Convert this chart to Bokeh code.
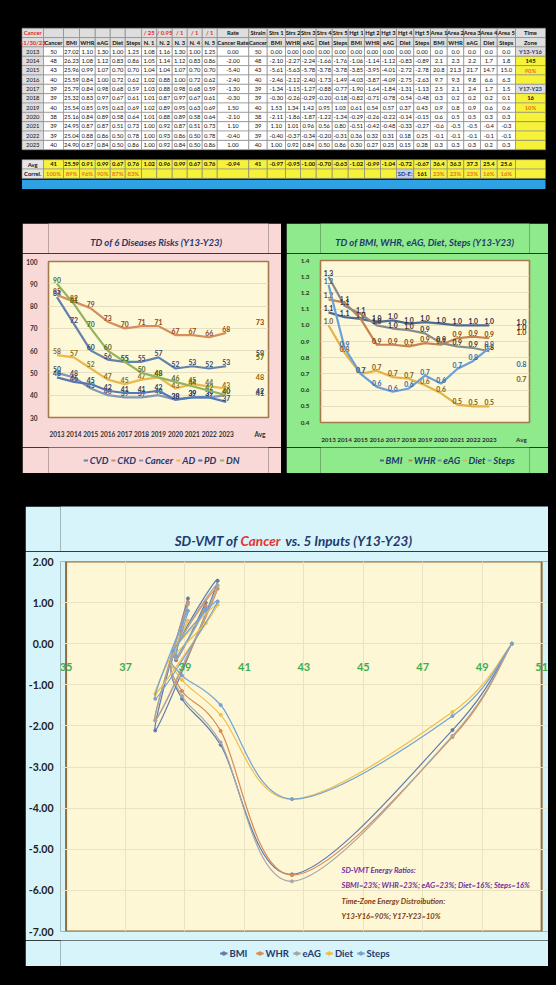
import numpy as np
from bokeh.plotting import figure
from bokeh.models import (ColumnDataSource, Range1d, FactorRange, FixedTicker, Label,
                          NumeralTickFormatter, Spacer)
from bokeh.layouts import column, row
from bokeh.core.properties import value
from bokeh.embed import file_html
from bokeh.resources import INLINE

FONT = "Lato"
NAVY = "#1f3a6e"

# ---------------- data ----------------
years = ["2013", "2014", "2015", "2016", "2017", "2018", "2019", "2020", "2021", "2022", "2023"]
cancer = [50, 48, 43, 40, 39, 39, 40, 38, 39, 39, 40]
cancer_exact = [50.0, 48.0, 42.6, 40.2, 38.9, 38.6, 40.1, 38.0, 39.1, 38.7, 39.7]
bmi = [27.02, 26.23, 25.96, 25.59, 25.79, 25.32, 25.54, 25.16, 24.95, 25.04, 24.90]
whr = [1.10, 1.08, 0.99, 0.84, 0.84, 0.83, 0.85, 0.84, 0.87, 0.88, 0.87]
eag = [1.30, 1.12, 1.07, 1.00, 0.98, 0.97, 0.95, 0.89, 0.87, 0.86, 0.84]
diet = [1.00, 0.83, 0.70, 0.72, 0.68, 0.67, 0.63, 0.58, 0.51, 0.50, 0.50]
steps = [1.25, 0.86, 0.70, 0.62, 0.59, 0.61, 0.69, 0.64, 0.73, 0.78, 0.86]
n1 = [1.08, 1.05, 1.04, 1.02, 1.03, 1.01, 1.02, 1.01, 1.00, 1.00, 1.00]
n2 = [1.16, 1.14, 1.04, 0.88, 0.88, 0.87, 0.89, 0.88, 0.92, 0.93, 0.92]
n3 = [1.30, 1.12, 1.07, 1.00, 0.98, 0.97, 0.95, 0.89, 0.87, 0.86, 0.84]
n4 = [1.00, 0.83, 0.70, 0.72, 0.68, 0.67, 0.63, 0.58, 0.51, 0.50, 0.50]
n5 = [1.25, 0.86, 0.70, 0.62, 0.59, 0.61, 0.69, 0.64, 0.73, 0.78, 0.86]
rate = [0.00, -2.00, -5.40, -2.40, -1.30, -0.30, 1.50, -2.10, 1.10, -0.40, 1.00]
strs_bmi = [0.00, -2.10, -5.61, -2.46, -1.34, -0.30, 1.53, -2.11, 1.10, -0.40, 1.00]
strs_whr = [0.00, -2.27, -5.63, -2.12, -1.15, -0.26, 1.34, -1.86, 1.01, -0.37, 0.92]
strs_eag = [0.00, -2.24, -5.78, -2.40, -1.27, -0.29, 1.42, -1.87, 0.96, -0.34, 0.84]
strs_diet = [0.00, -1.66, -3.78, -1.73, -0.88, -0.20, 0.95, -1.22, 0.56, -0.20, 0.50]
strs_steps = [0.00, -1.76, -3.78, -1.49, -0.77, -0.18, 1.03, -1.34, 0.80, -0.31, 0.86]
hgt1 = [0.00, -1.06, -3.85, -4.03, -1.90, -0.82, 0.61, -0.29, -0.51, 0.36, 0.30]
hgt2 = [0.00, -1.14, -3.95, -3.87, -1.64, -0.71, 0.54, -0.26, -0.42, 0.32, 0.27]
hgt3 = [0.00, -1.12, -4.01, -4.09, -1.84, -0.78, 0.57, -0.22, -0.48, 0.31, 0.25]
hgt4 = [0.00, -0.83, -2.72, -2.75, -1.31, -0.54, 0.37, -0.14, -0.33, 0.18, 0.15]
hgt5 = [0.00, -0.89, -2.78, -2.63, -1.13, -0.48, 0.43, -0.15, -0.27, 0.25, 0.28]
area1 = [0.0, 2.1, 20.8, 9.7, 2.5, 0.3, 0.9, 0.6, -0.6, -0.1, 0.3]
area2 = [0.0, 2.3, 21.3, 9.3, 2.1, 0.2, 0.8, 0.5, -0.5, -0.1, 0.3]
area3 = [0.0, 2.2, 21.7, 9.8, 2.4, 0.2, 0.9, 0.5, -0.5, -0.1, 0.3]
area4 = [0.0, 1.7, 14.7, 6.6, 1.7, 0.2, 0.6, 0.3, -0.4, -0.1, 0.2]
area5 = [0.0, 1.8, 15.0, 6.3, 1.5, 0.1, 0.6, 0.3, -0.3, -0.1, 0.3]
time_zone = ["Y13-Y16", "145", "90%", "", "Y17-Y23", "16", "10%", "", "", "", ""]
avg_row = ["Avg", "41", "25.59", "0.91", "0.99", "0.67", "0.76", "1.02", "0.96", "0.99", "0.67", "0.76",
           "-0.94", "41", "-0.97", "-0.95", "-1.00", "-0.70", "-0.63", "-1.02", "-0.99", "-1.04", "-0.72",
           "-0.67", "36.4", "36.3", "37.3", "25.4", "25.6", ""]
correl = ["100%", "89%", "96%", "90%", "87%", "83%"]
sde_value = "161"
area_share = ["23%", "23%", "23%", "16%", "16%"]
header1 = ["Cancer", "", "", "", "", "", "", "/ 25", "/ 0.95", "/ 1", "/ 1", "/ 1", "Rate", "Strain",
           "Strs 1", "Strs 2", "Strs 3", "Strs 4", "Strs 5", "Hgt 1", "Hgt 2", "Hgt 3", "Hgt 4", "Hgt 5",
           "Area 1", "Area 2", "Area 3", "Area 4", "Area 5", "Time"]
header2 = ["11/30/23", "Cancer", "BMI", "WHR", "eAG", "Diet", "Steps", "N. 1", "N. 2", "N. 3", "N. 4",
           "N. 5", "Cancer Rate", "Cancer", "BMI", "WHR", "eAG", "Diet", "Steps", "BMI", "WHR", "eAG",
           "Diet", "Steps", "BMI", "WHR", "eAG", "Diet", "Steps", "Zone"]

# disease risks (left chart)
cvd = [84, 72, 60, 56, 55, 55, 57, 52, 53, 52, 53]
ckd = [85, 82, 79, 73, 70, 71, 71, 67, 67, 66, 68]
cancer_risk = [50, 48, 43, 40, 39, 39, 40, 38, 39, 39, 40]
ad = [58, 57, 52, 47, 45, 47, 48, 43, 45, 44, 43]
pd_ = [48, 46, 45, 42, 41, 41, 42, 38, 39, 39, 37]
dn = [90, 81, 70, 60, 55, 50, 48, 46, 44, 42, 40]
disease_avg = [59, 73, 41, 48, 42, 57]
disease_names = ["CVD", "CKD", "Cancer", "AD", "PD", "DN"]

# inputs (right chart) averages
input_names = ["BMI", "WHR", "eAG", "Diet", "Steps"]
input_avg = [1.02, 0.96, 0.99, 0.67, 0.76]

x_ticks_big = [35, 37, 39, 41, 43, 45, 47, 49, 51]
y_ticks_big = [-7, -6, -5, -4, -3, -2, -1, 0, 1, 2]
X_MIN, X_MAX, Y_MIN, Y_MAX = 35, 51, -7, 2

# ---------------- table ----------------
col_w = [21.5, 20, 16, 15.7, 15, 15, 16.3, 15.3, 15.4, 15, 15, 15, 31.6, 18.4, 18.3, 15, 15.7,
         16, 16, 16.3, 16, 16, 17.3, 16.7, 16.7, 16.6, 16.7, 16.7, 18.3, 30]
edges = [21.5]
for w in col_w:
    edges.append(edges[-1] + w)
RH = 9.35
GREY, WHITE, YEL, RED, ORANGE = "#dedede", "#ffffff", "#f6f23a", "#e2291f", "#e8731c"

cells = dict(l=[], r=[], t=[], b=[], fc=[])
texts = dict(x=[], y=[], t=[], tc=[], fs=[])


def add_row(top, values, fills, colors, styles):
    for c in range(len(col_w)):
        cells["l"].append(edges[c]); cells["r"].append(edges[c + 1])
        cells["t"].append(top); cells["b"].append(top + RH); cells["fc"].append(fills[c])
        if values[c]:
            texts["x"].append((edges[c] + edges[c + 1]) / 2); texts["y"].append(top + RH / 2)
            texts["t"].append(values[c]); texts["tc"].append(colors[c]); texts["fs"].append(styles[c])


ncol = len(col_w)
hcol = ["#111111"] * ncol
hcol[0] = RED
for c in range(7, 12):
    hcol[c] = RED
add_row(27.7, header1, [GREY] * ncol, hcol, ["bold"] * ncol)
h2col = ["#111111"] * ncol
h2col[0] = RED
add_row(27.7 + RH, header2, [GREY] * ncol, h2col, ["bold"] * ncol)

for i, yr in enumerate(years):
    vals = [yr, str(cancer[i]), f"{bmi[i]:.2f}", f"{whr[i]:.2f}", f"{eag[i]:.2f}", f"{diet[i]:.2f}",
            f"{steps[i]:.2f}", f"{n1[i]:.2f}", f"{n2[i]:.2f}", f"{n3[i]:.2f}", f"{n4[i]:.2f}",
            f"{n5[i]:.2f}", f"{rate[i]:.2f}", str(cancer[i]),
            f"{strs_bmi[i]:.2f}", f"{strs_whr[i]:.2f}", f"{strs_eag[i]:.2f}", f"{strs_diet[i]:.2f}",
            f"{strs_steps[i]:.2f}", f"{hgt1[i]:.2f}", f"{hgt2[i]:.2f}", f"{hgt3[i]:.2f}",
            f"{hgt4[i]:.2f}", f"{hgt5[i]:.2f}", f"{area1[i]:.1f}", f"{area2[i]:.1f}",
            f"{area3[i]:.1f}", f"{area4[i]:.1f}", f"{area5[i]:.1f}", time_zone[i]]
    fills = [GREY] + [WHITE] * (ncol - 1)
    cols = ["#111111"] * ncol
    sty = ["normal"] * ncol
    tz = time_zone[i]
    if tz.startswith("Y"):
        fills[-1] = GREY; cols[-1] = NAVY; sty[-1] = "bold"
    else:
        fills[-1] = YEL; sty[-1] = "bold"
        if tz.endswith("%"):
            cols[-1] = ORANGE
    add_row(46.4 + i * RH, vals, fills, cols, sty)

avg_top = 159.2
add_row(avg_top, avg_row, ["#e6e6e6"] + [YEL] * (ncol - 1), ["#111111"] * ncol, ["bold"] * ncol)
cor_vals = ["Correl."] + correl + [""] * 15 + ["SD-E:", sde_value] + area_share + [""]
cor_fill = ["#e6e6e6"] + [YEL] * (ncol - 1)
cor_fill[22] = "#bfd0ee"
cor_col = ["#111111"] + [ORANGE] * 6 + ["#111111"] * 15 + [NAVY, "#111111"] + [ORANGE] * 5 + ["#111111"]
add_row(avg_top + RH, cor_vals, cor_fill, cor_col, ["bold"] * ncol)


def blank_fig(w, h, color):
    f = figure(width=w, height=h, x_range=Range1d(0, w), y_range=Range1d(h, 0),
               x_axis_location=None, y_axis_location=None, output_backend="svg",
               toolbar_location=None, min_border=0)
    f.background_fill_color = color
    f.border_fill_color = color
    f.outline_line_color = None
    f.grid.visible = False
    return f


tbl = blank_fig(556, 200, "black")
tbl.quad(left="l", right="r", top="t", bottom="b", fill_color="fc", line_color="#8a8a8a",
         line_width=0.6, source=ColumnDataSource(cells))
tbl.quad(left=[edges[0]], right=[edges[-1]], top=[179.2], bottom=[188.4], fill_color="#2ea2e2",
         line_color=None)
tbl.text(x="x", y="y", text="t", text_color="tc", text_font_style="fs", text_font_size="5.8px",
         text_font=value(FONT), text_align="center", text_baseline="middle",
         source=ColumnDataSource(texts))


def title_fig(w, h, color, parts, xs, aligns, colors, yc, size):
    f = blank_fig(w, h, color)
    for t, xx, a, c in zip(parts, xs, aligns, colors):
        f.text(x=[xx], y=[yc], text=[t], text_color=c, text_align=a, text_baseline="middle",
               text_font=value(FONT), text_font_size=size, text_font_style="bold italic")
    return f


def est_width(s, px):
    em = 0.0
    for ch in s:
        if ch == "W":
            em += 1.05
        elif ch == "M":
            em += 0.95
        elif ch.isupper():
            em += 0.72
        elif ch in "iltf":
            em += 0.32
        elif ch.islower():
            em += 0.53
        elif ch.isdigit():
            em += 0.58
        else:
            em += 0.28
    return em * px


def legend_fig(w, h, color, names, colors, center_x, style, px, gw, gap, markers=False):
    f = blank_fig(w, h, color)
    widths = [gw + 2 + est_width(n, px) for n in names]
    total = sum(widths) + gap * (len(names) - 1)
    x = center_x - total / 2
    yc = h / 2
    for n, c, wd in zip(names, colors, widths):
        f.segment(x0=[x], y0=[yc], x1=[x + gw], y1=[yc], line_color=c, line_width=2)
        if markers:
            f.scatter(x=[x + gw / 2], y=[yc], size=3.5, color=c)
        f.text(x=[x + gw + 2], y=[yc], text=[n], text_color=NAVY, text_align="left",
               text_baseline="middle", text_font=value(FONT), text_font_size=f"{px}px",
               text_font_style=style)
        x += wd + gap
    return f


# ---------------- small charts ----------------
def style_small(p, lbl_size):
    p.background_fill_color = "#fdf8d8"
    p.outline_line_color = "#a47a4c"
    p.outline_line_width = 1.6
    p.xgrid.grid_line_color = None
    p.ygrid.grid_line_color = "#e6dfc2"
    for ax in (p.xaxis[0], p.yaxis[0]):
        ax.axis_line_color = None
        ax.major_tick_line_color = None
        ax.minor_tick_line_color = None
        ax.major_label_text_font = FONT
        ax.major_label_text_font_style = "bold"
        ax.major_label_text_font_size = lbl_size
        ax.major_label_text_color = "#303030"
    p.xaxis.major_label_standoff = 7
    p.yaxis.major_label_standoff = 5


cats = years + [" ", "Avg"]
PINK, GREEN, CYAN = "#f9d9d8", "#8fea8c", "#d6f4fa"

t1 = title_fig(259, 30, PINK, ["TD of 6 Diseases Risks  (Y13-Y23)"], [128], ["center"], [NAVY],
               19, "9.5px")
p1 = figure(width=259, height=194, x_range=FactorRange(factors=cats), y_range=Range1d(30, 100),
            output_backend="svg", toolbar_location=None,
            min_border_left=26, min_border_right=13, min_border_top=8, min_border_bottom=30)
p1.border_fill_color = PINK
style_small(p1, "6.5px")
p1.yaxis.ticker = FixedTicker(ticks=[30, 40, 50, 60, 70, 80, 90, 100])

disease_vals = [cvd, ckd, cancer_risk, ad, pd_, dn]
disease_line = ["#6282ad", "#d48e5e", "#8597b5", "#eab94e", "#5678b8", "#93b35d"]
disease_text = ["#2f4a70", "#8b4513", "#3c4d6b", "#8a6a10", "#2a3f6f", "#4a6a20"]
for name, vals, lc, tc, av in zip(disease_names, disease_vals, disease_line, disease_text, disease_avg):
    p1.line(x=years, y=vals, line_color=lc, line_width=2.2)
    p1.text(x=years, y=vals, text=[str(v) for v in vals], text_color=tc, text_font_size="6.8px",
            text_font_style="bold", text_font=value(FONT), text_align="center",
            text_baseline="bottom", y_offset=-1)
    p1.text(x=["Avg"], y=[av], text=[str(av)], text_color=tc, text_font_size="7.2px",
            text_font_style="bold", text_font=value(FONT), text_align="center",
            text_baseline="middle")
lg1 = legend_fig(259, 26, PINK, disease_names, disease_line, 132, "bold italic", 9.5, 5, 5)

t2 = title_fig(262, 30, GREEN, ["TD of BMI, WHR, eAG, Diet, Steps  (Y13-Y23)"], [132], ["center"],
               [NAVY], 19, "9.5px")
p2 = figure(width=262, height=194, x_range=FactorRange(factors=cats), y_range=Range1d(0.4, 1.4),
            output_backend="svg", toolbar_location=None,
            min_border_left=34, min_border_right=19, min_border_top=7, min_border_bottom=25)
p2.border_fill_color = GREEN
style_small(p2, "6.3px")
p2.yaxis.ticker = FixedTicker(ticks=[0.4, 0.5, 0.6, 0.7, 0.8, 0.9, 1.0, 1.1, 1.2, 1.3, 1.4])
p2.yaxis.formatter = NumeralTickFormatter(format="0.0")

input_vals = [n1, n2, n3, n4, n5]
input_line = ["#4d6a90", "#c9824f", "#8a8a8a", "#e3b248", "#6aa0d8"]
input_text = ["#1f3050", "#7a3e10", "#303030", "#7a5a10", "#2e6aa8"]
for name, vals, lc, tc, av in zip(input_names, input_vals, input_line, input_text, input_avg):
    p2.line(x=years, y=vals, line_color=lc, line_width=2.2)
    p2.text(x=years, y=vals, text=[f"{v:.1f}" for v in vals], text_color=tc, text_font_size="6.8px",
            text_font_style="bold", text_font=value(FONT), text_align="center",
            text_baseline="bottom", y_offset=-1)
    p2.text(x=["Avg"], y=[av], text=[f"{av:.1f}"], text_color=tc, text_font_size="7.2px",
            text_font_style="bold", text_font=value(FONT), text_align="center",
            text_baseline="middle")
lg2 = legend_fig(262, 26, GREEN, input_names, input_line, 158, "bold italic", 9.5, 5, 6)

# ---------------- big chart ----------------
t3 = title_fig(523, 45, CYAN, ["SD-VMT of", "Cancer", "vs. 5 Inputs  (Y13-Y23)"],
               [190, 193, 241], ["right", "left", "left"], [NAVY, "#e8322b", NAVY], 34, "13.5px")

p3 = figure(width=523, height=389, x_range=Range1d(34.812, 51.231), y_range=Range1d(-7, 2),
            output_backend="svg", toolbar_location=None,
            min_border_left=26, min_border_right=0, min_border_top=10, min_border_bottom=9)
p3.background_fill_color = CYAN
p3.border_fill_color = CYAN
p3.outline_line_color = None
p3.quad(left=[X_MIN], right=[X_MAX], bottom=[Y_MIN], top=[Y_MAX], fill_color="#fdf7d6",
        line_color="#8c6d3f", line_width=2, level="image")
p3.yaxis.ticker = FixedTicker(ticks=y_ticks_big)
p3.yaxis.formatter = NumeralTickFormatter(format="0.00")
p3.xaxis.ticker = FixedTicker(ticks=x_ticks_big)
p3.xaxis.fixed_location = 0
for ax in (p3.xaxis[0], p3.yaxis[0]):
    ax.axis_line_color = None
    ax.major_tick_line_color = None
    ax.minor_tick_line_color = None
    ax.major_label_text_font = FONT
    ax.major_label_text_font_style = "bold"
p3.yaxis.major_label_text_font_size = "10.5px"
p3.xaxis.major_label_text_font_size = "11px"
p3.yaxis.major_label_text_color = "#222222"
p3.yaxis.major_label_standoff = 1
p3.xaxis.major_label_text_color = "#3aae4e"
p3.xaxis.major_label_standoff = 13
p3.ygrid.ticker = FixedTicker(ticks=y_ticks_big[1:-1])
p3.xgrid.ticker = FixedTicker(ticks=x_ticks_big[1:-1])
p3.ygrid.bounds = (X_MIN, X_MAX)
p3.xgrid.bounds = (Y_MIN, Y_MAX)
p3.ygrid.grid_line_color = "#e9e2c5"
p3.xgrid.grid_line_color = "#e9e2c5"


def smooth_segments(xs, ys):
    n = len(xs)
    seg = dict(x0=[], y0=[], x1=[], y1=[], cx0=[], cy0=[], cx1=[], cy1=[])
    for i in range(n - 1):
        xa, ya_ = (xs[i - 1], ys[i - 1]) if i > 0 else (xs[i], ys[i])
        xb, yb = (xs[i + 2], ys[i + 2]) if i + 2 < n else (xs[i + 1], ys[i + 1])
        seg["x0"].append(xs[i]); seg["y0"].append(ys[i])
        seg["x1"].append(xs[i + 1]); seg["y1"].append(ys[i + 1])
        seg["cx0"].append(xs[i] + (xs[i + 1] - xa) / 6.0)
        seg["cy0"].append(ys[i] + (ys[i + 1] - ya_) / 6.0)
        seg["cx1"].append(xs[i + 1] - (xb - xs[i]) / 6.0)
        seg["cy1"].append(ys[i + 1] - (yb - ys[i]) / 6.0)
    return seg


strs_vals = [strs_bmi, strs_whr, strs_eag, strs_diet, strs_steps]
strs_colors = ["#5f7cae", "#d98a55", "#a6a6a6", "#eec04a", "#74a3d4"]
for name, vals, c in zip(input_names, strs_vals, strs_colors):
    p3.bezier(x0="x0", y0="y0", x1="x1", y1="y1", cx0="cx0", cy0="cy0", cx1="cx1", cy1="cy1",
              source=ColumnDataSource(smooth_segments(cancer_exact, vals)),
              line_color=c, line_width=1.2)
    p3.scatter(x=cancer_exact, y=vals, size=3, color=c)

notes = [("SD-VMT Energy Ratios:", 62, "#7030a0"),
         ("SBMI=23%; WHR=23%; eAG=23%; Diet=16%; Steps=16%", 47, "#7030a0"),
         ("Time-Zone Energy Distroibution:", 31, "#843c0c"),
         ("Y13-Y16=90%; Y17-Y23=10%", 16, "#843c0c")]
for txt, yy, col in notes:
    p3.add_layout(Label(x=281, y=yy, x_units="screen", y_units="screen", text=txt,
                        text_align="left", text_baseline="middle", text_font=FONT,
                        text_font_size="7.6px", text_font_style="bold italic", text_color=col))

lg3 = legend_fig(523, 26, CYAN, input_names, strs_colors, 262, "bold", 9.5, 8, 6, markers=True)

# ---------------- layout ----------------
layout = column(
    tbl,
    Spacer(width=556, height=23),
    row(Spacer(width=22, height=250), column(t1, p1, lg1), Spacer(width=5, height=250),
        column(t2, p2, lg2)),
    Spacer(width=556, height=33),
    row(Spacer(width=25, height=460), column(t3, p3, lg3)),
)

TEMPLATE = """{% block postamble %}<style>html, body { background-color: #000000; }</style>{% endblock %}"""
open("out.html", "w").write(file_html(layout, INLINE, template=TEMPLATE))
